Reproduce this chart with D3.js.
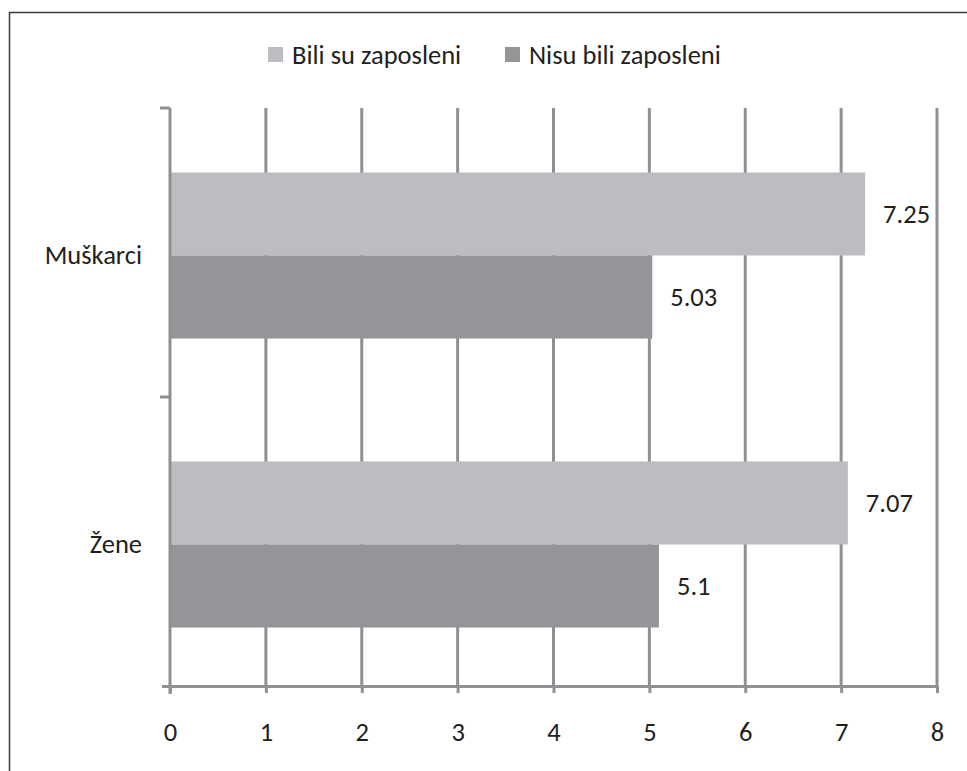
<!DOCTYPE html>
<html><head><meta charset="utf-8">
<script src="https://cdn.jsdelivr.net/npm/d3@7"></script>
<style>
body{margin:0;background:#fff;}
text{font-family:Carlito,Lato,"Open Sans",sans-serif;fill:#231f20;}
</style></head>
<body><svg id="c" width="967" height="771"></svg>
<script>
const categories = ["Muškarci", "Žene"];
const seriesNames = ["Bili su zaposleni", "Nisu bili zaposleni"];
const employed = [7.25, 7.07];
const unemployed = [5.03, 5.1];
const xTicks = [0,1,2,3,4,5,6,7,8];
const colors = ["#bcbdc1", "#939598"];

(function(){
const FS = 26.5;
const svg = d3.select("#c");
const W = 967, H = 771;
svg.append("rect").attr("width",W).attr("height",H).attr("fill","#fff");
svg.append("path").attr("d","M9.5,771 V12.5 H967").attr("fill","none").attr("stroke","#3a3a3a").attr("stroke-width",1.5);

const pL=170, pR=937, pT=108, pB=686;
const x = d3.scaleLinear().domain([0,8]).range([pL,pR]);
const y = d3.scaleBand().domain(categories).range([pT,pB]).paddingInner(0).paddingOuter(0);
const inner = d3.scaleBand().domain(seriesNames).range([0,y.bandwidth()]).paddingOuter(0.74).paddingInner(0);

const gridColor="#8f9093";
svg.append("g").selectAll("line").data(xTicks.filter(d=>d>0)).join("line")
  .attr("x1",d=>x(d)).attr("x2",d=>x(d)).attr("y1",pT).attr("y2",pB)
  .attr("stroke",gridColor).attr("stroke-width",3);

const data = [];
categories.forEach((c,i)=>{
  data.push({cat:c, s:seriesNames[0], v:employed[i], col:colors[0]});
  data.push({cat:c, s:seriesNames[1], v:unemployed[i], col:colors[1]});
});
const g = svg.append("g");
g.selectAll("rect").data(data).join("rect")
  .attr("x",x(0)).attr("y",d=>y(d.cat)+inner(d.s)+3)
  .attr("width",d=>x(d.v)-x(0)).attr("height",inner.bandwidth())
  .attr("fill",d=>d.col);
g.selectAll("text").data(data).join("text")
  .attr("x",d=>x(d.v)+18).attr("y",d=>y(d.cat)+inner(d.s)+3+inner.bandwidth()/2)
  .attr("dy","0.35em").attr("font-size",FS).text(d=>d.v);

const xa = svg.append("g").attr("transform",`translate(0,${pB})`)
  .call(d3.axisBottom(x).tickValues(xTicks).tickSize(7).tickPadding(29).tickSizeOuter(0));
xa.select(".domain").attr("stroke",gridColor).attr("stroke-width",3).attr("d",`M${pL-8},0.5H${pR}`);
xa.selectAll(".tick line").attr("stroke",gridColor).attr("stroke-width",3);
xa.selectAll(".tick text").attr("font-size",FS).attr("fill","#231f20").attr("font-family","Carlito,Lato,'Open Sans',sans-serif");

svg.append("line").attr("x1",pL).attr("x2",pL).attr("y1",pT).attr("y2",pB+8)
  .attr("stroke",gridColor).attr("stroke-width",3);
svg.append("g").selectAll("line").data([pT, y(categories[1])]).join("line")
  .attr("x1",pL-10).attr("x2",pL).attr("y1",d=>d).attr("y2",d=>d)
  .attr("stroke",gridColor).attr("stroke-width",3);
svg.append("g").selectAll("text").data(categories).join("text")
  .attr("x",142).attr("y",d=>y(d)+y.bandwidth()/2+2).attr("dy","0.35em")
  .attr("text-anchor","end").attr("font-size",FS).text(d=>d);

const lx=[268,505];
const lg = svg.append("g");
seriesNames.forEach((s,i)=>{
  lg.append("rect").attr("x",lx[i]).attr("y",47).attr("width",15).attr("height",15).attr("fill",colors[i]);
  lg.append("text").attr("x",lx[i]+24).attr("y",55).attr("dy","0.35em").attr("font-size",FS).text(s);
});
})();
</script></body></html>
